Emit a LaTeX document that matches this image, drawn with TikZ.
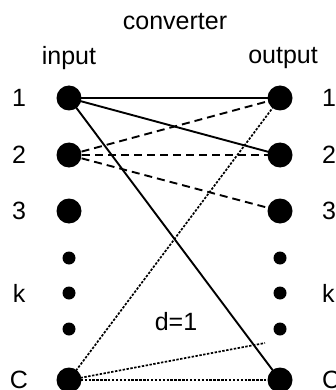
\documentclass[tikz,border=0pt]{standalone}
\usepackage{fontspec}
\setmainfont{Liberation Sans}
\begin{document}
\begin{tikzpicture}[x=1pt,y=-1pt,
  big/.style={circle,fill=black,inner sep=0pt,minimum size=25pt},
  small/.style={circle,fill=black,inner sep=0pt,minimum size=13pt},
  lbl/.style={font=\fontsize{25}{28}\selectfont,inner sep=0pt},
  conn/.style={line width=1.9pt},
  dsh/.style={conn,dash pattern=on 8pt off 5pt},
  dtt/.style={line width=1.7pt,dash pattern=on 2.4pt off 1.5pt}]
\useasboundingbox (0,0) rectangle (335,390);
% left nodes
\node[big] (i1) at (69,98) {};
\node[big] (i2) at (69,155) {};
\node[big] (i3) at (69,211) {};
\node[small] (ia) at (69,258) {};
\node[small] (ik) at (69,293) {};
\node[small] (ib) at (69,329) {};
\node[big] (iC) at (69,380) {};
% right nodes
\node[big] (o1) at (280,98) {};
\node[big] (o2) at (280,155) {};
\node[big] (o3) at (280,211) {};
\node[small] (oa) at (280,258) {};
\node[small] (ok) at (280,293) {};
\node[small] (ob) at (280,329) {};
\node[big] (oC) at (280,380) {};
\coordinate (free) at (265,343);
% labels
\node[lbl] (tconv) at (175,22) {converter};
\node[lbl] (tin) at (69,58) {input};
\node[lbl] (tout) at (283,58) {output};
\node[lbl] (l1) at (19,98) {1};
\node[lbl] (l2) at (19,155) {2};
\node[lbl] (l3) at (19,211) {3};
\node[lbl] (lk) at (19,293) {k};
\node[lbl] (lC) at (19,380) {C};
\node[lbl,anchor=west] (r1) at (322,98) {1};
\node[lbl,anchor=west] (r2) at (322,155) {2};
\node[lbl,anchor=west] (r3) at (322,211) {3};
\node[lbl,anchor=west] (rk) at (322,293) {k};
\node[lbl,anchor=west] (rC) at (322,380) {C};
\node[lbl] (d) at (176,322) {d=1};
% connectors
\draw[conn] (i1.center) -- (o1.center);
\draw[conn] (i1.center) -- (o2.center);
\draw[conn] (i1.center) -- (oC.center);
\draw[dsh] (i2.center) -- (o1.center);
\draw[dsh] (i2.center) -- (o2.center);
\draw[dsh] (i2.center) -- (o3.center);
\draw[dtt] (iC.center) -- (o1.center);
\draw[dtt] (iC.center) -- (oC.center);
\draw[dtt] (iC.center) -- (free);
\end{tikzpicture}
\end{document}
